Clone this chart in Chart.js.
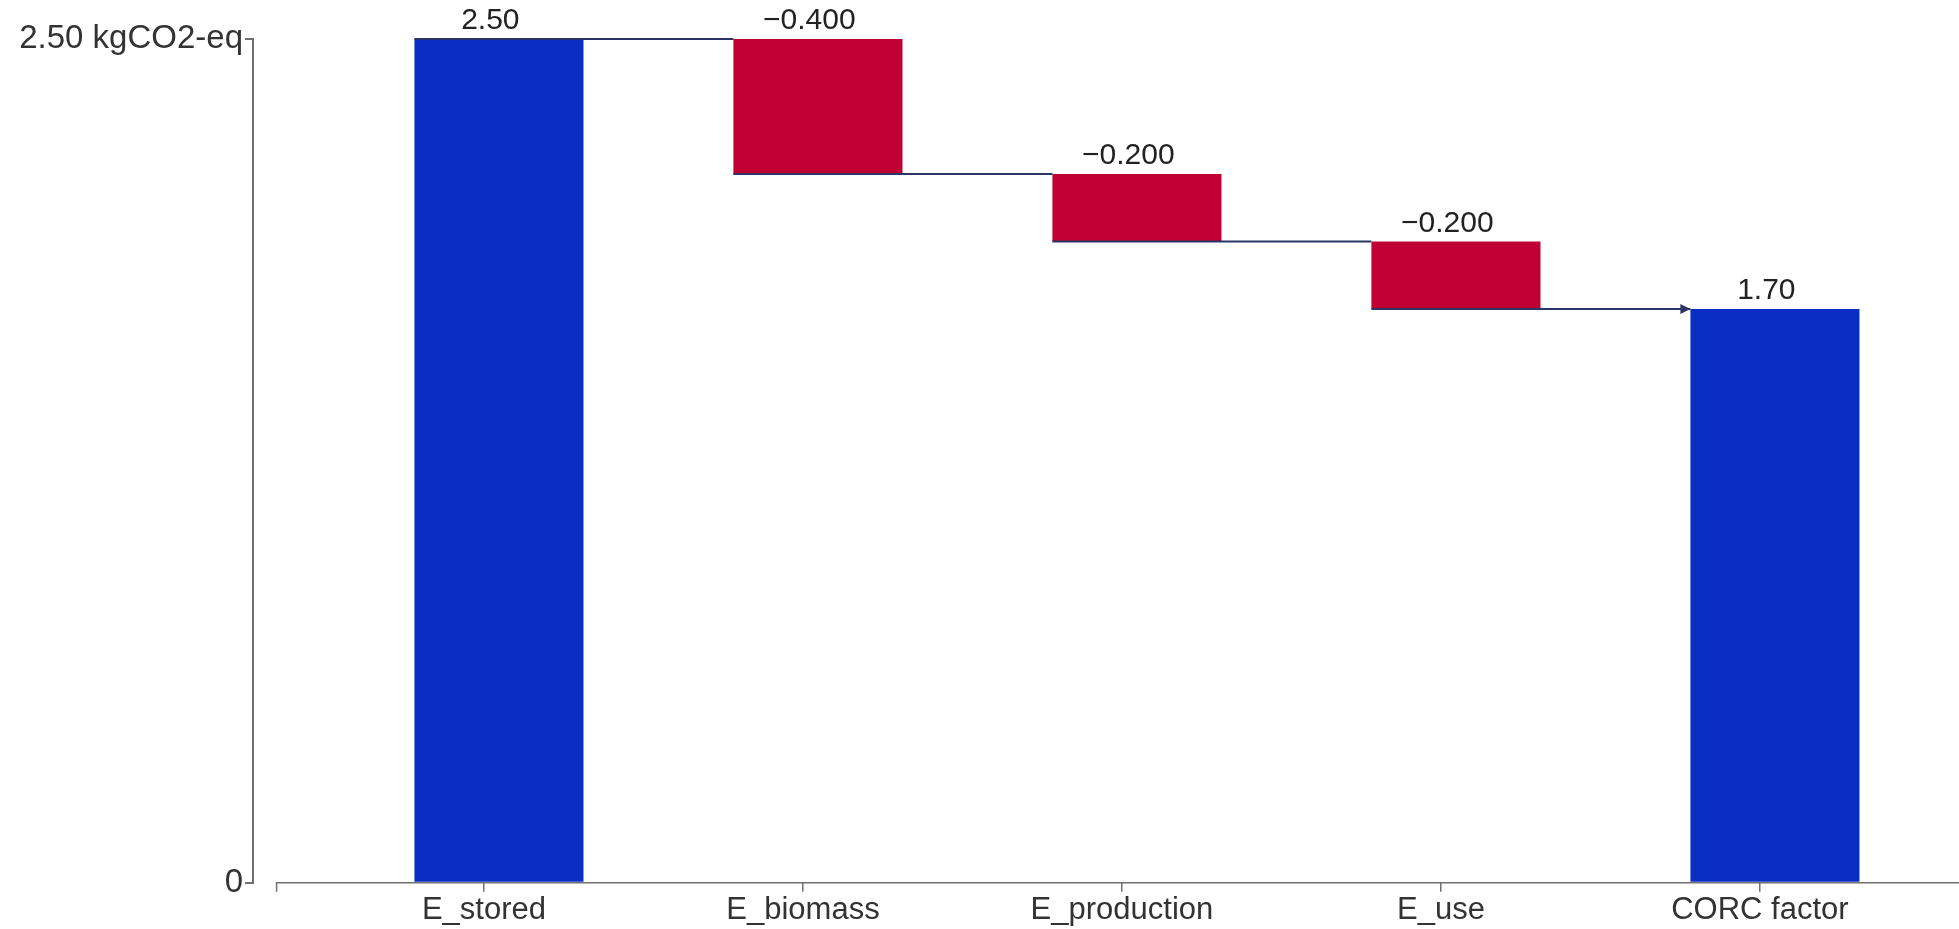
<!DOCTYPE html>
<html>
<head>
<meta charset="utf-8">
<script src="https://cdn.jsdelivr.net/npm/chart.js@4.4.1/dist/chart.umd.min.js"></script>
<style>
  html, body { margin: 0; padding: 0; background: #fff; }
  #wrap { width: 1959px; height: 929px; }
</style>
</head>
<body>
<div id="wrap"><canvas id="chart"></canvas></div>
<script>
// waterfall data
const categories = ["E_stored", "E_biomass", "E_production", "E_use", "CORC factor"];
const stepValues = [2.50, -0.400, -0.200, -0.200, 1.70];
const stepKinds = ["total", "delta", "delta", "delta", "total"];
const valueLabels = ["2.50", "\u22120.400", "\u22120.200", "\u22120.200", "1.70"];
const yTickValues = [0, 2.5];
const yTickLabels = ["0", "2.50 kgCO2-eq"];

const BAR_SHIFT = 0.047;   // bars sit a bit right of their ticks
const LABEL_SHIFT = 0.02;
const X_AXIS_START = -0.65;

const BLUE = "#0a2ec4";
const RED = "#c00035";
const AXIS = "#707070";
const LINK = "#2b3566";

// build floating ranges from running total
const ranges = [];
let running = 0;
stepValues.forEach((v, i) => {
  if (stepKinds[i] === "total") {
    ranges.push([0, v]);
    running = v;
  } else {
    ranges.push([running + v, running]);
    running += v;
  }
});

const barData = ranges.map((r, i) => ({ x: i + BAR_SHIFT, y: r }));
const colors = stepValues.map((v, i) => stepKinds[i] === "total" ? BLUE : RED);

const waterfallExtras = {
  id: "waterfallExtras",
  afterDatasetsDraw(chart) {
    const ctx = chart.ctx;
    const xs = chart.scales.x;
    const ys = chart.scales.y;
    const meta = chart.getDatasetMeta(0);
    const area = chart.chartArea;

    // x axis line, starting a little right of the y axis
    ctx.save();
    ctx.strokeStyle = AXIS;
    ctx.lineWidth = 1.5;
    const x0 = xs.getPixelForValue(X_AXIS_START);
    ctx.beginPath();
    ctx.moveTo(x0, area.bottom + 9);
    ctx.lineTo(x0, area.bottom);
    ctx.lineTo(area.right, area.bottom);
    ctx.stroke();

    // connector lines between steps
    ctx.strokeStyle = LINK;
    ctx.fillStyle = LINK;
    ctx.lineWidth = 2;
    let level = 0;
    for (let i = 0; i < ranges.length - 1; i++) {
      level = stepKinds[i] === "total" ? ranges[i][1] : ranges[i][0];
      const cur = meta.data[i];
      const next = meta.data[i + 1];
      const y = ys.getPixelForValue(level);
      const xa = cur.x - cur.width / 2;
      const xb = next.x - next.width / 2;
      ctx.beginPath();
      ctx.moveTo(xa, y);
      ctx.lineTo(xb, y);
      ctx.stroke();
      if (i === ranges.length - 2) {
        ctx.beginPath();
        ctx.moveTo(xb, y);
        ctx.lineTo(xb - 10, y - 5);
        ctx.lineTo(xb - 10, y + 5);
        ctx.closePath();
        ctx.fill();
      }
    }

    // value labels above bars
    ctx.fillStyle = "#222";
    ctx.font = "30px 'Liberation Sans', Arial, sans-serif";
    ctx.textAlign = "center";
    ctx.textBaseline = "alphabetic";
    ranges.forEach((r, i) => {
      const x = xs.getPixelForValue(i + LABEL_SHIFT);
      const y = ys.getPixelForValue(Math.max(r[0], r[1]));
      ctx.fillText(valueLabels[i], x, y - 10);
    });
    ctx.restore();
  }
};

new Chart(document.getElementById("chart"), {
  type: "bar",
  data: {
    datasets: [{
      data: barData,
      backgroundColor: colors,
      borderColor: colors,
      borderWidth: 0,
      barPercentage: 0.53,
      categoryPercentage: 1.0
    }]
  },
  options: {
    responsive: true,
    maintainAspectRatio: false,
    animation: false,
    events: [],
    layout: { padding: { top: 39, left: 0, right: 0, bottom: 0 } },
    plugins: { legend: { display: false }, tooltip: { enabled: false } },
    scales: {
      x: {
        type: "linear",
        offset: false,
        min: -0.724,
        max: 4.624,
        afterBuildTicks: (s) => { s.ticks = categories.map((c, i) => ({ value: i })); },
        border: { display: false },
        grid: {
          offset: false,
          drawOnChartArea: false,
          drawTicks: true,
          tickLength: 9,
          color: AXIS,
          lineWidth: 1.5
        },
        ticks: {
          autoSkip: false,
          maxRotation: 0,
          padding: 0,
          color: "#333",
          font: { family: "'Liberation Sans', Arial, sans-serif", size: 31 },
          callback: (v) => categories[Math.round(v)]
        }
      },
      y: {
        min: 0,
        max: 2.5,
        afterFit: (s) => { s.width = 253; },
        afterBuildTicks: (s) => { s.ticks = yTickValues.map((v) => ({ value: v })); },
        border: { display: true, color: AXIS, width: 2 },
        grid: {
          drawOnChartArea: false,
          drawTicks: true,
          tickLength: 8,
          color: AXIS,
          lineWidth: 2
        },
        ticks: {
          padding: 2,
          color: "#333",
          font: { family: "'Liberation Sans', Arial, sans-serif", size: 33 },
          callback: (v) => yTickLabels[yTickValues.indexOf(v)]
        }
      }
    }
  },
  plugins: [waterfallExtras]
});
</script>
</body>
</html>
